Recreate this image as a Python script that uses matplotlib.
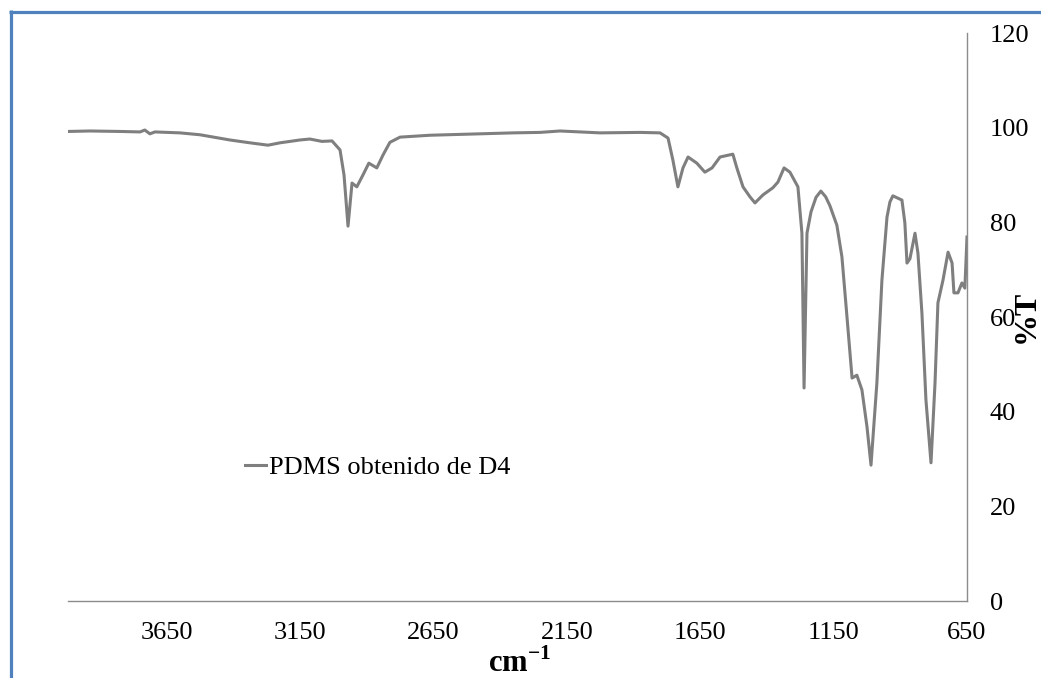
import matplotlib
matplotlib.use("Agg")
import matplotlib.pyplot as plt
from matplotlib.lines import Line2D

plt.rcParams['font.family'] = ['Liberation Serif', 'DejaVu Serif']
plt.rcParams['mathtext.fontset'] = 'custom'
plt.rcParams['mathtext.rm'] = 'Liberation Serif'
plt.rcParams['mathtext.bf'] = 'Liberation Serif:bold'

# FTIR spectrum (wavenumber cm-1, %T)
wavenumber = [4021, 3939, 3826, 3751, 3733, 3714, 3695, 3601, 3526, 3414, 3339, 3271,
              3226, 3151, 3114, 3069, 3031, 3001, 2986, 2971, 2956, 2938, 2915, 2893,
              2863, 2840, 2814, 2776, 2664, 2476, 2353, 2251, 2176, 2026, 1876, 1801,
              1771, 1753, 1734, 1715, 1696, 1663, 1633, 1606, 1576, 1528, 1513, 1490,
              1464, 1445, 1415, 1378, 1359, 1336, 1314, 1284, 1269, 1261, 1250, 1235,
              1216, 1198, 1180, 1164, 1138, 1119, 1100, 1081, 1063, 1044, 1025, 1010,
              988, 969, 950, 939, 928, 894, 883, 875, 864, 845, 834, 819, 804, 785,
              770, 759, 740, 721, 706, 699, 684, 669, 658, 650]
transmittance = [99.2, 99.3, 99.2, 99.1, 99.5, 98.7, 99.1, 98.9, 98.5, 97.4, 96.8, 96.3,
                 96.8, 97.4, 97.6, 97.1, 97.2, 95.3, 90.0, 79.2, 88.3, 87.5, 90.0, 92.5,
                 91.5, 94.2, 96.9, 98.0, 98.4, 98.7, 98.9, 99.0, 99.3, 98.9, 99.0, 98.9,
                 97.8, 93.2, 87.5, 91.5, 93.8, 92.5, 90.6, 91.5, 93.8, 94.4, 91.5, 87.5,
                 85.4, 84.1, 85.8, 87.3, 88.5, 91.5, 90.6, 87.5, 77.7, 45.0, 77.7, 82.2,
                 85.3, 86.6, 85.4, 83.5, 79.4, 72.7, 60.0, 47.1, 47.7, 44.6, 36.8, 28.7,
                 46.0, 67.8, 81.1, 84.3, 85.6, 84.7, 79.9, 71.4, 72.3, 77.7, 73.5, 60.8,
                 42.5, 29.2, 46.0, 63.0, 67.8, 73.7, 71.4, 65.1, 65.1, 67.2, 66.1, 76.9]

x_ticks = [3650, 3150, 2650, 2150, 1650, 1150, 650]
y_ticks = [0, 20, 40, 60, 80, 100, 120]
series_label = "PDMS obtenido de D4"

W, H = 1041, 678
fig = plt.figure(figsize=(W / 100, H / 100), dpi=100)
ax = fig.add_axes([68 / W, 1 - 601 / H, (967 - 68) / W, (601 - 33) / H])

ax.plot(wavenumber, transmittance, color='#7f7f7f', linewidth=2.2, label=series_label,
        solid_joinstyle='round')

ax.set_xlim(4021, 650)
ax.set_ylim(0, 120)
ax.set_xticks(x_ticks)
ax.set_yticks(y_ticks)
ax.yaxis.tick_right()
ax.tick_params(axis='both', length=0, labelsize=19)
ax.tick_params(axis='x', pad=15)
ax.tick_params(axis='y', pad=16.5)

for s in ['top', 'left']:
    ax.spines[s].set_visible(False)
for s in ['bottom', 'right']:
    ax.spines[s].set_color('#8c8c8c')
    ax.spines[s].set_linewidth(1.0)

fig.text(520 / W, 1 - 672 / H, r'$\mathbf{cm}^{\mathbf{-1}}$', ha='center', va='baseline',
         fontsize=22)
fig.text(1034 / W, 1 - 316 / H, '%T', ha='center', va='baseline', rotation=90,
         rotation_mode='anchor', fontsize=23, fontweight='bold')

leg = ax.legend(loc='center left', bbox_to_anchor=(245 / W, 1 - 467 / H),
                bbox_transform=fig.transFigure, frameon=False, fontsize=19,
                handlelength=0.8, handletextpad=0.1, borderpad=0, borderaxespad=0)

# page border (blue)
blue = '#4f81bd'
fig.add_artist(Line2D([10.5 / W, 10.5 / W], [0, 1 - 10 / H], color=blue,
                      linewidth=2.3, transform=fig.transFigure, solid_capstyle='butt'))
fig.add_artist(Line2D([9 / W, 1], [1 - 11.5 / H, 1 - 11.5 / H], color=blue,
                      linewidth=2.3, transform=fig.transFigure, solid_capstyle='butt'))

fig.savefig('out.png', dpi=100)
